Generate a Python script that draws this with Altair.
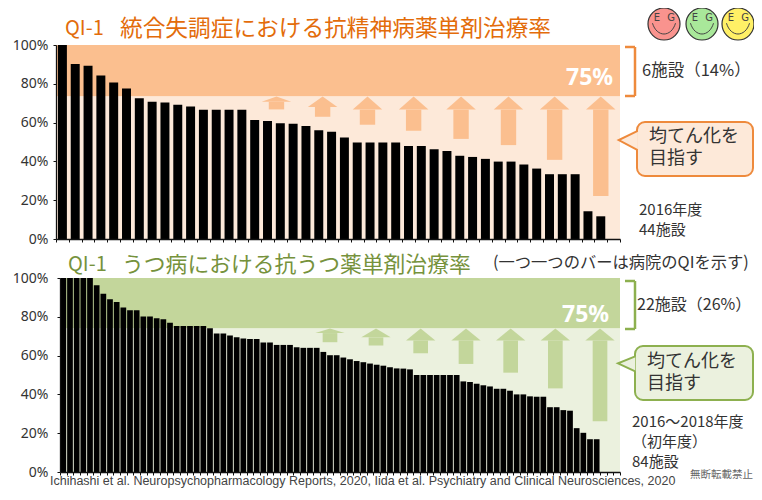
import altair as alt
import pandas as pd

# ---- values ----
top_values = [100, 90.2, 89.3, 84.3, 80.7, 77.6, 72.6, 70.7, 70.4, 69.2, 68.3,
              66.6, 66.6, 66.6, 66.6, 61.3, 60.8, 59.7, 59.4, 58.2, 56.1, 55.3, 52.3,
              49.7, 49.7, 49.7, 49.7, 48, 48, 46.3, 45.4, 42.9, 42.3, 41.3, 39.9, 39.9,
              38.4, 36.3, 33.4, 33.4, 33.4, 14.3, 11.7, 0]
bottom_values = [100, 100, 100, 100, 100, 96.2, 91.9, 89, 87.6, 84.8, 83.4, 83.4,
                 80.2, 80.2, 79.3, 78.8, 76.9, 75.2, 75.2, 75.2, 75.2, 75.2, 74.1,
                 71.4, 71.4, 70.3, 69.5, 68.8, 68.6, 68.6, 66.7, 66.7, 65.5, 65.5, 65.5,
                 64.3, 64, 64, 64, 61.9, 60.2, 60.2, 59, 58.1, 57.2, 56.6, 55.9, 55.3,
                 54.8, 54, 53.4, 53.3, 52.9, 50, 50, 50, 50, 50, 50, 50, 46.7, 46.4,
                 45.5, 44.7, 44.1, 42.9, 42.9, 41.9, 40, 40, 39, 38.8, 38.8, 33.4, 33.4,
                 31.9, 31.6, 22.6, 20.2, 16.9, 16.9, 0, 0, 0]
top_arrow_x = [17.2, 20.8, 24.3, 27.9, 31.6, 35.3, 38.9, 42.5]
top_arrow_bottom = [66.8, 63, 58.9, 55.8, 51.6, 48.4, 40.8, 22.2]
top_arrow_head = [2.8, 5.4, 6.8, 6.8, 6.8, 6.8, 6.8, 6.8]
bottom_arrow_x = [40.5, 47.4, 54.1, 60.9, 67.6, 74.3, 81]
bottom_arrow_bottom = [66.9, 65.2, 61.2, 55.7, 51.2, 43.1, 26.2]
bottom_arrow_head = [2.4, 4.6, 6.2, 6.2, 6.2, 6.2, 6.2]
y_ticks = [0, 20, 40, 60, 80, 100]

ORANGE = "#E36C0A"
ORANGE_EDGE = "#EE8A3C"
ORANGE_STRONG = "#FBBF8F"
ORANGE_LIGHT = "#FDE9D9"
GREEN = "#76923C"
GREEN_STRONG = "#C3D69B"
GREEN_LIGHT = "#EBF1DE"
INK = "#333333"
JP = "Noto Sans CJK JP"
ONE = alt.Data(values=[{}])
CIRCLE = "M0,-1C0.55,-1 1,-0.55 1,0C1,0.55 0.55,1 0,1C-0.55,1 -1,0.55 -1,0C-1,-0.55 -0.55,-1 0,-1Z"
SMILE = "M-0.72,-0.05C-0.45,0.85 0.45,0.85 0.72,-0.05"
FACE = 1024

# where each panel's plot area starts inside the 746 x 480 chart
TOP_O = (48, 37)
BOT_O = (48, 270)
PANEL_H = 194
CHART_W = 746
CHART_H = 480


def label(o, text, x, y, size, color=INK, weight=400, font=JP, align="left", line=None):
    extra = {"lineHeight": line} if line else {}
    return alt.Chart(ONE).mark_text(
        text=text, fontSize=size, color=color, fontWeight=weight, font=font,
        align=align, baseline="middle", **extra
    ).encode(x=alt.value(o[0] + x), y=alt.value(o[1] + y))


def rule(o, x, x2, y, y2, color, w=2.5):
    return alt.Chart(ONE).mark_rule(color=color, strokeWidth=w).encode(
        x=alt.value(o[0] + x), x2=alt.value(o[0] + x2),
        y=alt.value(o[1] + y), y2=alt.value(o[1] + y2))


def panel(o, values, band, strong, light, bar_inset, x0, label_pad,
          arrows, tail, box, bracket, edge, extras):
    n = len(values)
    xs = alt.Scale(domain=[0, n], range=[o[0] + x0, o[0] + 564], nice=False, zero=False)
    ys = alt.Scale(domain=[0, 100], range=[o[1] + PANEL_H, o[1]], nice=False)
    x_axis = alt.Axis(values=list(range(n + 1)), labels=False, title=None, grid=False,
                      orient="bottom", offset=-(CHART_H - o[1] - PANEL_H),
                      tickSize=3, tickColor="#111", tickWidth=1, domainColor="#111",
                      domainWidth=1.3, zindex=1)
    y_axis = alt.Axis(values=y_ticks, title=None, grid=False, tickSize=3, tickColor="#111",
                      orient="left", offset=-(o[0] + x0),
                      domainColor="#111", domainWidth=1.3, labelFont="Noto Sans",
                      labelFontSize=14, labelColor=INK, labelPadding=label_pad,
                      labelExpr="datum.value + '%'", zindex=1)
    X = alt.X("a:Q", scale=xs, axis=x_axis)
    Y = alt.Y("v:Q", scale=ys, axis=y_axis)
    X2 = alt.X2("b:Q")
    Y2 = alt.Y2("w:Q")

    bands = pd.DataFrame({"a": [0, 0], "b": [n, n], "v": [band, 0], "w": [100, band],
                          "f": [strong, light]})
    band_layer = alt.Chart(bands).mark_rect().encode(
        x=X, x2=X2, y=Y, y2=Y2, fill=alt.Fill("f:N", scale=None))

    bars = pd.DataFrame({"a": [i + bar_inset for i in range(n)],
                         "b": [i + 1 - bar_inset for i in range(n)],
                         "v": values, "w": [0] * n})
    bar_layer = alt.Chart(bars).mark_rect(color="#000").encode(
        x=X, x2=X2, y=Y, y2=Y2)

    ax, ab, ah, shaft, head = arrows
    shafts = pd.DataFrame({"a": [c - shaft for c in ax], "b": [c + shaft for c in ax],
                           "v": ab, "w": [band - h for h in ah]})
    shaft_layer = alt.Chart(shafts).mark_rect(color=strong).encode(
        x=X, x2=X2, y=Y, y2=Y2)
    tri = []
    for k, (c, h) in enumerate(zip(ax, ah)):
        tri += [{"k": k, "a": c - head, "v": band - h, "w": band - h},
                {"k": k, "a": c, "v": band, "w": band - h},
                {"k": k, "a": c + head, "v": band - h, "w": band - h}]
    head_layer = alt.Chart(pd.DataFrame(tri)).mark_area(color=strong).encode(
        x=X, y=Y, y2=Y2, detail="k:N")

    tip_x, base_x, tip_v, base_hi, base_lo = tail
    bx0, bx1, by0, by1 = box
    box_layer = alt.Chart(ONE).mark_rect(
        fill=light, stroke=edge, strokeWidth=2, cornerRadius=8
    ).encode(x=alt.value(o[0] + bx0), x2=alt.value(o[0] + bx1),
             y=alt.value(o[1] + by0), y2=alt.value(o[1] + by1))
    tail_fill = alt.Chart(pd.DataFrame({
        "a": [tip_x, base_x], "v": [tip_v, base_hi], "w": [tip_v, base_lo]
    })).mark_area(color=light).encode(x=X, y=Y, y2=Y2)
    tail_line = alt.Chart(pd.DataFrame({
        "a": [base_x - 0.02, tip_x, base_x - 0.02], "v": [base_hi, tip_v, base_lo], "o": [0, 1, 2]
    })).mark_line(color=edge, strokeWidth=2).encode(x=X, y=Y, order="o:Q")

    br_x0, br_x1, br_y0, br_y1 = bracket
    brackets = [rule(o, br_x0, br_x1, br_y0, br_y0, edge),
                rule(o, br_x1, br_x1, br_y0, br_y1, edge),
                rule(o, br_x0, br_x1, br_y1, br_y1, edge)]

    return alt.layer(band_layer, bar_layer, shaft_layer, head_layer, box_layer,
                     tail_fill, tail_line, *brackets, *extras)


def smiley(o, cx, cy, fill):
    px, py = o[0] + cx, o[1] + cy
    circle = alt.Chart(ONE).mark_point(
        shape=CIRCLE, size=FACE, filled=False, fill=fill, fillOpacity=1,
        stroke="#333", strokeWidth=1.2, opacity=1
    ).encode(x=alt.value(px), y=alt.value(py))
    smile = alt.Chart(ONE).mark_point(
        shape=SMILE, size=FACE, stroke="#444", strokeWidth=1, filled=False, opacity=1
    ).encode(x=alt.value(px), y=alt.value(py))
    return [circle, smile,
            label(o, "E", cx - 7, cy - 6, 10, "#444", align="center", font="DejaVu Sans"),
            label(o, "G", cx + 7, cy - 6, 10, "#444", align="center", font="DejaVu Sans")]


# ---- top panel: plot origin on the page is (56, 45) ----
top_extras = [
    label(TOP_O, "QI-1", 9, -16, 20, ORANGE),
    label(TOP_O, "統合失調症における抗精神病薬単剤治療率", 64, -16, 22.7, ORANGE),
    label(TOP_O, "75%", 510, 33, 23, "#FFFFFF", weight=700, font="Noto Sans"),
    label(TOP_O, "6施設（14%）", 586, 26, 16.5),
    label(TOP_O, ["均てん化を", "目指す"], 593, 92, 18, line=21.5),
    label(TOP_O, "2016年度", 583, 165, 15),
    label(TOP_O, "44施設", 583, 185, 15),
] + smiley(TOP_O, 608, -21, "#F9938E") + smiley(TOP_O, 646, -21, "#A9E89A") + smiley(TOP_O, 682, -21, "#FFF066")

top = panel(TOP_O, top_values, 73.5, ORANGE_STRONG, ORANGE_LIGHT, 0.15, 0, 5,
            (top_arrow_x, top_arrow_bottom, top_arrow_head, 0.6, 1.15),
            (43.9, 45.4, 51, 55.7, 45.8), (581, 697, 77, 131),
            (569, 579, 2, 51), ORANGE_EDGE, top_extras)

# ---- bottom panel: plot origin on the page is (56, 278) ----
bottom_extras = [
    label(BOT_O, "QI-1", 12, -13, 20, GREEN),
    label(BOT_O, "うつ病における抗うつ薬単剤治療率", 66, -13, 21.8, GREEN),
    label(BOT_O, "(一つ一つのバーは病院のQIを示す)", 437, -15, 16.3),
    label(BOT_O, "75%", 506, 37, 23, "#FFFFFF", weight=700, font="Noto Sans"),
    label(BOT_O, "22施設（26%）", 581, 27, 16),
    label(BOT_O, ["均てん化を", "目指す"], 591, 84, 18, line=21.5),
    label(BOT_O, "2016～2018年度", 576, 144, 15),
    label(BOT_O, "（初年度）", 576, 164, 15),
    label(BOT_O, "84施設", 576, 184, 15),
    label(BOT_O, "無断転載禁止", 634, 197, 10.5, "#666666"),
    label(BOT_O, "Ichihashi et al. Neuropsychopharmacology Reports, 2020, Iida et al. Psychiatry and Clinical Neurosciences, 2020",
          -6, 203, 12.5, "#444444", font="Liberation Sans"),
]

bottom = panel(BOT_O, bottom_values, 74, GREEN_STRONG, GREEN_LIGHT, 0.07, 4, 9,
               (bottom_arrow_x, bottom_arrow_bottom, bottom_arrow_head, 1.1, 2.2),
               (83.7, 86.3, 56, 59.6, 51.9), (579, 697, 68, 122),
               (569, 579, 3, 51), "#8DB04F", bottom_extras)

chart = alt.layer(top, bottom).resolve_scale(x="independent", y="independent").resolve_axis(
    x="independent", y="independent"
).properties(
    width=CHART_W, height=CHART_H, padding=0, background="white",
    autosize=alt.AutoSizeParams(type="none", contains="padding"),
).configure_view(stroke=None)

chart.save("out.html", embed_options={"renderer": "svg", "actions": False})
